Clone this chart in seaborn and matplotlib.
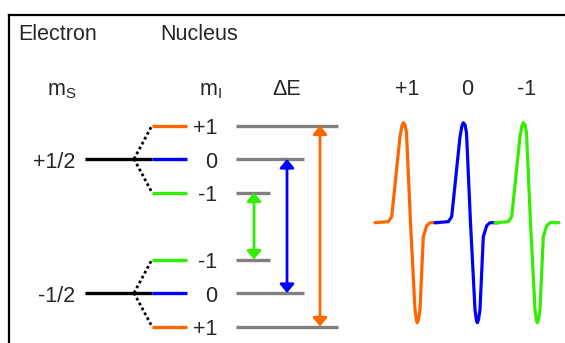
import numpy as np
import pandas as pd
import seaborn as sns
from matplotlib import pyplot as plt

# electron spin states, nuclear spin states (I = 1)
ms_values = [0.5, -0.5]
ms_labels = ['+1/2', '-1/2']
mi_values = [1, 0, -1]
mi_labels = ['+1', '0', '-1']
mi_colors = ['#ff6600', '#0000ff', '#33ee00']

# derivative line shape: offset from line centre, relative intensity
shape_dx = [-35, -21.7, -18.3, -10, -8, -6.7, -5, -3.5, 0.5, 5, 6.5, 7.3, 8.5, 10, 13.3, 16.7, 20, 29]
shape_y = [0, 0.01, 0.06, 0.86, 0.97, 1.0, 0.98, 0.9, 0.0, -0.87, -0.98, -1.0, -0.97, -0.87, -0.14, -0.03, 0, 0]


# layout in pixels (y grows downwards)
def ms_y(ms):
    return 226 - 134 * ms


def level_y(ms, mi):
    return ms_y(ms) - 67 * ms * mi


def spec_x(mi):
    return 470 - 60 * mi


sns.set_style("white")
plt.rcParams['font.family'] = ['Liberation Sans', 'DejaVu Sans']
plt.rcParams['mathtext.fontset'] = 'custom'
plt.rcParams['mathtext.rm'] = 'Liberation Sans'

fig = plt.figure(figsize=(5.65, 3.43), dpi=100)
ax = fig.add_axes([0, 0, 1, 1])
fs = 15.5

# frame
ax.plot([9, 9], [15, 343], color='black', lw=1.6, solid_capstyle='projecting')
ax.plot([9, 565], [15, 15], color='black', lw=1.6, solid_capstyle='projecting')

ax.text(18, 40, 'Electron', fontsize=fs, va='baseline')
ax.text(160, 40, 'Nucleus', fontsize=fs, va='baseline')
ax.text(47, 95, r'$\mathregular{m_S}$', fontsize=fs, va='baseline')
ax.text(199, 95, r'$\mathregular{m_I}$', fontsize=fs, va='baseline')
ax.text(287, 95, 'ΔE', fontsize=fs, va='baseline', ha='center')

for ms, lab in zip(ms_values, ms_labels):
    yc = ms_y(ms)
    ax.text(75, yc + 8.5, lab, fontsize=fs, ha='right', va='baseline')
    ax.plot([85, 152], [yc, yc], color='black', lw=2.4, solid_capstyle='butt')
    for mi, mlab, c in zip(mi_values, mi_labels, mi_colors):
        yl = level_y(ms, mi)
        if mi != 0:
            ax.plot([134, 152], [yc, yl], color='black', lw=2, linestyle=(0, (1, 1)))
        ax.plot([152, 187], [yl, yl], color=c, lw=2.4, solid_capstyle='butt')
        ax.text(217, yl + 8.5, mlab, fontsize=fs, ha='right', va='baseline')
        ax.plot([236, 304 + 34 * mi], [yl, yl], color='#808080', lw=2.4, solid_capstyle='butt')

# allowed transitions (delta mI = 0)
for mi, c in zip(mi_values, mi_colors):
    x = 287 + 33 * mi
    ax.annotate('', xy=(x, level_y(-0.5, mi)), xytext=(x, level_y(0.5, mi)),
                arrowprops=dict(arrowstyle='<|-|>,head_length=0.3,head_width=0.25',
                                color=c, lw=2, mutation_scale=17, shrinkA=0, shrinkB=0))

# spectrum
rows = []
for mi, mlab in zip(mi_values, mi_labels):
    for dx, v in zip(shape_dx, shape_y):
        rows.append({'x': spec_x(mi) + dx, 'y': 222.7 - 100 * v, 'line': mlab})
    ax.text(spec_x(mi) - 3, 95, mlab, fontsize=fs, ha='center', va='baseline')
df = pd.DataFrame(rows)
sns.lineplot(data=df, x='x', y='y', hue='line', hue_order=mi_labels,
             palette=dict(zip(mi_labels, mi_colors)), sort=False, estimator=None,
             legend=False, lw=2.3, ax=ax)

ax.set_xlim(0, 565)
ax.set_ylim(343, 0)
ax.axis('off')
fig.savefig('out.png', dpi=100)
